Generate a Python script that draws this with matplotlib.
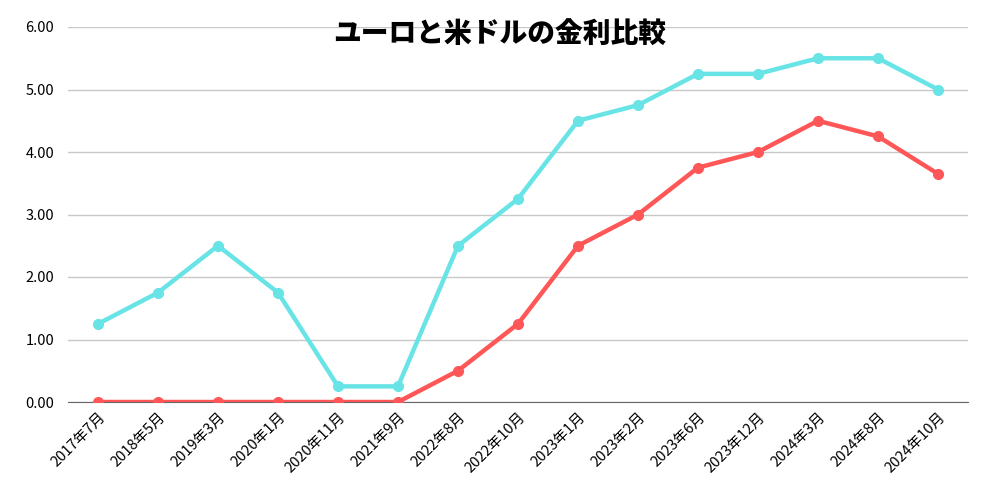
import matplotlib
matplotlib.use("Agg")
import matplotlib.pyplot as plt
from matplotlib.ticker import FormatStrFormatter

plt.rcParams['font.family'] = ['Noto Sans CJK JP', 'DejaVu Sans']

categories = ["2017年7月", "2018年5月", "2019年3月", "2020年1月", "2020年11月",
              "2021年9月", "2022年8月", "2022年10月", "2023年1月", "2023年2月",
              "2023年6月", "2023年12月", "2024年3月", "2024年8月", "2024年10月"]
usd_rate = [1.25, 1.75, 2.5, 1.75, 0.25, 0.25, 2.5, 3.25, 4.5, 4.75, 5.25, 5.25, 5.5, 5.5, 5.0]
eur_rate = [0, 0, 0, 0, 0, 0, 0.5, 1.25, 2.5, 3.0, 3.75, 4.0, 4.5, 4.25, 3.65]
title = "ユーロと米ドルの金利比較"

fig = plt.figure(figsize=(10, 5), dpi=100)
ax = fig.add_axes([0.068, 0.196, 0.900, 0.750])

x = list(range(len(categories)))
ax.plot(x, usd_rate, color="#68e4e6", lw=3.2, marker="o", ms=7, zorder=3,
        solid_joinstyle="round", solid_capstyle="round")
ax.plot(x, eur_rate, color="#ff5757", lw=3.2, marker="o", ms=7, zorder=4,
        solid_joinstyle="round", solid_capstyle="round")

ax.set_xlim(-0.5, len(categories) - 0.5)
ax.set_ylim(0, 6)
ax.set_yticks([0, 1, 2, 3, 4, 5, 6])
ax.yaxis.set_major_formatter(FormatStrFormatter("%.2f"))
ax.set_xticks(x)
ax.set_xticklabels(categories, rotation=45, ha="right", rotation_mode="anchor", fontsize=10.5)
ax.tick_params(axis="y", length=0, labelsize=10.5, pad=10)
ax.tick_params(axis="x", length=0, pad=6)

ax.grid(axis="y", color="#c8c8c8", lw=1, zorder=0)
ax.set_axisbelow(True)
for s in ["top", "right", "left"]:
    ax.spines[s].set_visible(False)
ax.spines["bottom"].set_color("#666666")
ax.spines["bottom"].set_zorder(2)

fig.text(0.5, 0.93, title, ha="center", va="center", fontsize=20, fontweight="black")

fig.savefig("out.png", dpi=100)
